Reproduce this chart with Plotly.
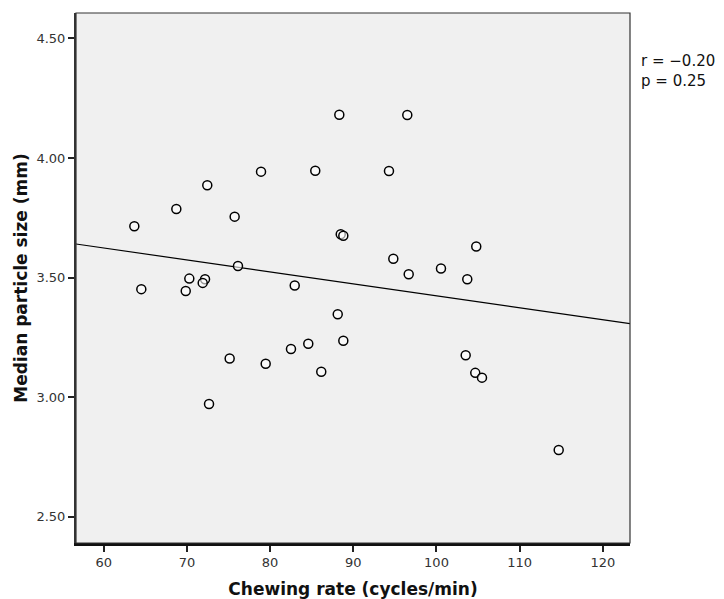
import plotly.graph_objects as go

chewing_rate = [88.32, 72.45, 78.91, 85.43, 68.73, 75.74, 63.68, 88.49, 88.80, 76.14,
                70.29, 72.18, 71.90, 64.52, 69.86, 82.96,
                96.49, 94.29, 104.78, 94.81, 96.66, 100.54, 103.70,
                88.13, 88.80, 84.59, 82.51, 75.14, 79.47, 86.15, 72.66,
                103.51, 104.66, 105.47, 114.69]
particle_size = [4.181, 3.886, 3.943, 3.947, 3.787, 3.755, 3.715, 3.681, 3.675, 3.549,
                 3.496, 3.493, 3.478, 3.452, 3.444, 3.467,
                 4.180, 3.946, 3.630, 3.579, 3.514, 3.538, 3.493,
                 3.347, 3.236, 3.224, 3.202, 3.162, 3.140, 3.107, 2.972,
                 3.176, 3.102, 3.082, 2.780]

fit_intercept = 3.924
fit_slope = -0.005
x_range = [56.67, 123.26]
y_range = [2.391, 4.606]
x_ticks = [60, 70, 80, 90, 100, 110, 120]
y_ticks = [2.50, 3.00, 3.50, 4.00, 4.50]
stats_text = "r = \u22120.20<br>p = 0.25"

fit_y = [fit_intercept + fit_slope * x for x in x_range]

fig = go.Figure()
fig.add_trace(go.Scatter(x=x_range, y=fit_y, mode="lines",
                         line=dict(color="black", width=1.2), showlegend=False,
                         hoverinfo="skip"))
fig.add_trace(go.Scatter(x=chewing_rate, y=particle_size, mode="markers",
                         marker=dict(symbol="circle", size=9, color="rgba(255,255,255,0.6)",
                                     line=dict(color="black", width=1.5)),
                         showlegend=False))

fig.update_layout(
    width=724, height=599,
    margin=dict(l=76, r=94, t=13, b=56),
    paper_bgcolor="white",
    plot_bgcolor="#f0f0f0",
    font=dict(family="DejaVu Sans", color="#222"),
    xaxis=dict(range=x_range, tickvals=x_ticks, showgrid=False, zeroline=False,
               automargin=False,
               showline=True, linecolor="#111", linewidth=2.5,
               ticks="outside", ticklen=6, tickwidth=2, tickcolor="#222",
               tickfont=dict(size=13, color="#333"),
               title=dict(text="<b>Chewing rate (cycles/min)</b>",
                          font=dict(size=17, color="#111"), standoff=16)),
    yaxis=dict(range=y_range, tickvals=y_ticks, tickformat=".2f", showgrid=False,
               automargin=False,
               zeroline=False, showline=True, linecolor="#333", linewidth=2,
               ticks="outside", ticklen=6, tickwidth=2, tickcolor="#222",
               tickfont=dict(size=13, color="#333"),
               title=dict(text="<b>Median particle size (mm)</b>",
                          font=dict(size=17, color="#111"), standoff=4)),
    shapes=[dict(type="rect", xref="paper", yref="paper", x0=0, y0=0, x1=1, y1=1,
                 line=dict(color="#333", width=1.2), layer="above")],
    annotations=[dict(text=stats_text, xref="paper", yref="paper", x=1.016, y=0.930,
                      xanchor="left", yanchor="top", showarrow=False, align="left",
                      font=dict(size=15, color="#111"))],
)

fig.write_html("out.html", config={"displayModeBar": False})

with open("out.html", "r", encoding="utf-8") as f:
    html = f.read()
html = html.replace("<body>", '<body style="margin:0;padding:0;overflow:hidden">', 1)
with open("out.html", "w", encoding="utf-8") as f:
    f.write(html)
